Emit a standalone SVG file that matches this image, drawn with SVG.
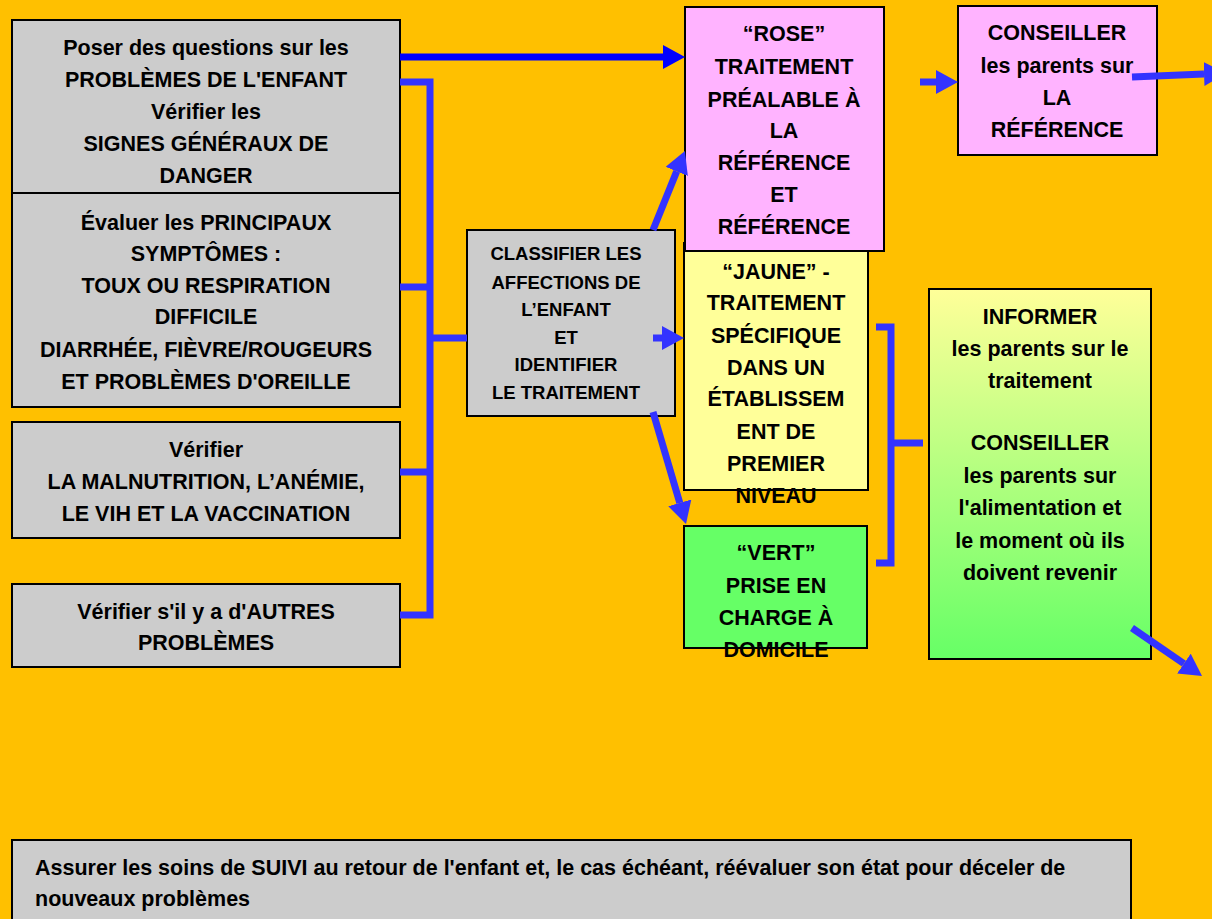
<svg xmlns="http://www.w3.org/2000/svg" width="1212" height="919" viewBox="0 0 1212 919">
<defs>
<linearGradient id="gInf" x1="0" y1="0" x2="0" y2="1">
<stop offset="0" stop-color="#FFFF99"/>
<stop offset="1" stop-color="#66FF66"/>
</linearGradient>
<marker id="hB" markerUnits="userSpaceOnUse" viewBox="0 -12 22 24" markerWidth="22" markerHeight="24" refX="0" refY="0" orient="auto">
<path d="M0,-12 L22,0 L0,12 z" fill="#0000FF"/>
</marker>
<marker id="hL" markerUnits="userSpaceOnUse" viewBox="0 -12 22 24" markerWidth="22" markerHeight="24" refX="0" refY="0" orient="auto">
<path d="M0,-12 L22,0 L0,12 z" fill="#3333FF"/>
</marker>
<style>
.box{stroke:#000;stroke-width:2}
.gray{fill:#CCCCCC}
.pink{fill:#FFB3FF}
.yel{fill:#FFFF99}
.grn{fill:#66FF66}
.t{font-family:"Liberation Sans",Arial,sans-serif;font-weight:bold;font-size:21.5px;fill:#000;text-anchor:middle}
.ts{font-size:18.5px}
.tb{font-family:"Liberation Sans",Arial,sans-serif;font-weight:bold;font-size:21.5px;fill:#000}
.c{fill:none;stroke:#3333FF;stroke-width:7}
.c0{fill:none;stroke:#0000FF;stroke-width:7}
</style>
</defs>
<rect width="1212" height="919" fill="#FFC000"/>

<g id="n1">
<rect class="box gray" x="12" y="20" width="388" height="173"/>
<text class="t" x="206" y="55">Poser des questions sur les</text>
<text class="t" x="206" y="87">PROBLÈMES DE L'ENFANT</text>
<text class="t" x="206" y="119">Vérifier les</text>
<text class="t" x="206" y="151">SIGNES GÉNÉRAUX DE</text>
<text class="t" x="206" y="183">DANGER</text>
</g>
<g id="n2">
<rect class="box gray" x="12" y="193" width="388" height="214"/>
<text class="t" x="206" y="230">Évaluer les PRINCIPAUX</text>
<text class="t" x="206" y="261">SYMPTÔMES :</text>
<text class="t" x="206" y="293">TOUX OU RESPIRATION</text>
<text class="t" x="206" y="324">DIFFICILE</text>
<text class="t" x="206" y="357">DIARRHÉE, FIÈVRE/ROUGEURS</text>
<text class="t" x="206" y="389">ET PROBLÈMES D'OREILLE</text>
</g>
<g id="n3">
<rect class="box gray" x="12" y="422" width="388" height="116"/>
<text class="t" x="206" y="457">Vérifier</text>
<text class="t" x="206" y="489">LA MALNUTRITION, L’ANÉMIE,</text>
<text class="t" x="206" y="521">LE VIH ET LA VACCINATION</text>
</g>
<g id="n4">
<rect class="box gray" x="12" y="584" width="388" height="83"/>
<text class="t" x="206" y="619">Vérifier s'il y a d'AUTRES</text>
<text class="t" x="206" y="650">PROBLÈMES</text>
</g>
<g id="n5">
<rect class="box gray" x="467" y="230" width="208" height="186"/>
<text class="t ts" x="566" y="260">CLASSIFIER LES</text>
<text class="t ts" x="566" y="289">AFFECTIONS DE</text>
<text class="t ts" x="566" y="316">L’ENFANT</text>
<text class="t ts" x="566" y="344">ET</text>
<text class="t ts" x="566" y="371">IDENTIFIER</text>
<text class="t ts" x="566" y="399">LE TRAITEMENT</text>
</g>
<g id="n7">
<rect class="box yel" x="684" y="243" width="184" height="247"/>
<text class="t" x="776" y="279">“JAUNE” -</text>
<text class="t" x="776" y="310">TRAITEMENT</text>
<text class="t" x="776" y="343">SPÉCIFIQUE</text>
<text class="t" x="776" y="375">DANS UN</text>
<text class="t" x="776" y="406">ÉTABLISSEM</text>
<text class="t" x="776" y="439">ENT DE</text>
<text class="t" x="776" y="471">PREMIER</text>
<text class="t" x="776" y="503">NIVEAU</text>
</g>
<g id="n6">
<rect class="box pink" x="685" y="7" width="199" height="244"/>
<text class="t" x="784" y="41">“ROSE”</text>
<text class="t" x="784" y="74">TRAITEMENT</text>
<text class="t" x="784" y="107">PRÉALABLE À</text>
<text class="t" x="784" y="138">LA</text>
<text class="t" x="784" y="170">RÉFÉRENCE</text>
<text class="t" x="784" y="202">ET</text>
<text class="t" x="784" y="234">RÉFÉRENCE</text>
</g>
<g id="n8">
<rect class="box grn" x="684" y="526" width="183" height="122"/>
<text class="t" x="776" y="560">“VERT”</text>
<text class="t" x="776" y="593">PRISE EN</text>
<text class="t" x="776" y="625">CHARGE À</text>
<text class="t" x="776" y="657">DOMICILE</text>
</g>
<g id="n9">
<rect class="box pink" x="958" y="6" width="199" height="149"/>
<text class="t" x="1057" y="40">CONSEILLER</text>
<text class="t" x="1057" y="73">les parents sur</text>
<text class="t" x="1057" y="105">LA</text>
<text class="t" x="1057" y="137">RÉFÉRENCE</text>
</g>
<g id="n10">
<rect class="box" fill="url(#gInf)" x="929" y="289" width="222" height="370"/>
<text class="t" x="1040" y="324">INFORMER</text>
<text class="t" x="1040" y="356">les parents sur le</text>
<text class="t" x="1040" y="388">traitement</text>
<text class="t" x="1040" y="450">CONSEILLER</text>
<text class="t" x="1040" y="483">les parents sur</text>
<text class="t" x="1040" y="515">l'alimentation et</text>
<text class="t" x="1040" y="548">le moment où ils</text>
<text class="t" x="1040" y="580">doivent revenir</text>
</g>
<g id="n11">
<rect class="box gray" x="12" y="840" width="1119" height="95"/>
<text class="tb" x="35" y="875">Assurer les soins de SUIVI au retour de l'enfant et, le cas échéant, réévaluer son état pour déceler de</text>
<text class="tb" x="35" y="906">nouveaux problèmes</text>
</g>

<g id="connectors">
<line class="c0" x1="400" y1="57" x2="663" y2="57" marker-end="url(#hB)"/>
<path class="c" d="M400,82 H430 V615 H400"/>
<path class="c" d="M400,287 H430 M400,472 H430 M430,338 H467"/>
<line class="c" x1="653" y1="230" x2="676.7" y2="171.4" marker-end="url(#hL)"/>
<line class="c" x1="653" y1="338" x2="662" y2="338" marker-end="url(#hL)"/>
<line class="c" x1="653" y1="412" x2="679.8" y2="502.9" marker-end="url(#hL)"/>
<line class="c" x1="920" y1="82" x2="936" y2="82" marker-end="url(#hL)"/>
<line class="c" x1="1132" y1="77" x2="1204" y2="74" marker-end="url(#hL)"/>
<line class="c" x1="1132" y1="628" x2="1183.9" y2="663.6" marker-end="url(#hL)"/>
<path class="c" d="M876,327 H891 V563 H876 M891,443 H923"/>
</g>
</svg>
